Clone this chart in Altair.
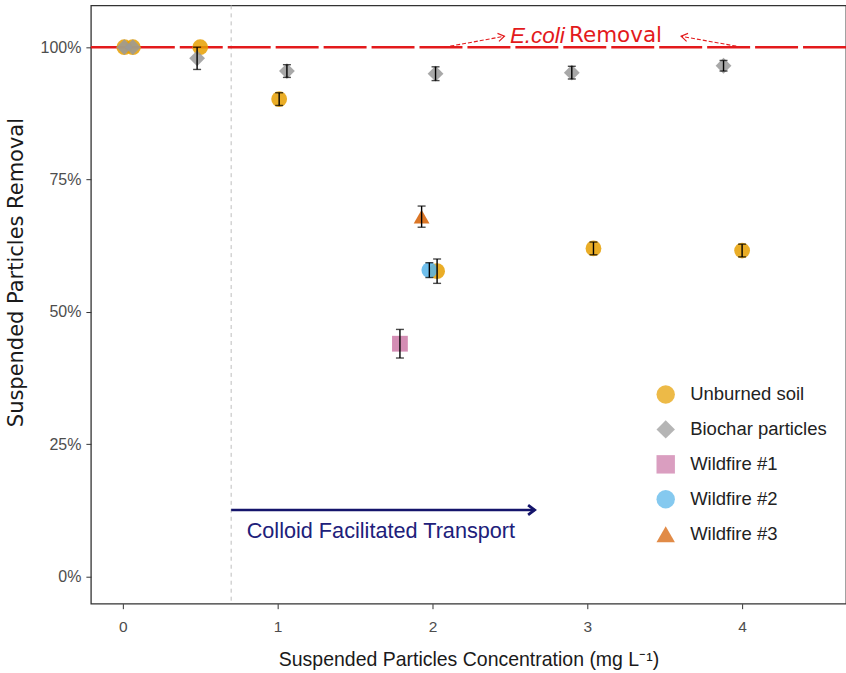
import altair as alt
import pandas as pd

# ---------------- data ----------------
groups = ["Unburned soil", "Biochar particles", "Wildfire #1", "Wildfire #2", "Wildfire #3"]
colors = ["#E69F00", "#999999", "#CC79A7", "#56B4E9", "#D55E00"]
shapes = ["circle", "diamond", "square", "circle", "triangle-up"]

unburned_x = [0.01, 0.065, 0.50, 1.01, 2.03, 3.04, 4.00]
unburned_y = [1.000, 1.000, 1.000, 0.902, 0.577, 0.620, 0.616]
unburned_err = [0.0, 0.0, 0.0, 0.012, 0.023, 0.012, 0.012]

biochar_x = [0.01, 0.065, 0.48, 1.06, 2.02, 2.90, 3.88]
biochar_y = [1.000, 1.000, 0.979, 0.955, 0.950, 0.952, 0.965]
biochar_err = [0.0, 0.0, 0.021, 0.012, 0.013, 0.012, 0.010]

wildfire1_x = [1.79]
wildfire1_y = [0.440]
wildfire1_err = [0.027]

wildfire2_x = [1.98]
wildfire2_y = [0.579]
wildfire2_err = [0.014]

wildfire3_x = [1.93]
wildfire3_y = [0.680]
wildfire3_err = [0.020]

x_ticks = [0, 1, 2, 3, 4]
y_ticks = [0, 0.25, 0.5, 0.75, 1.0]

ecoli_level = [1.0]
threshold_x = [0.70]

transport_arrow_x = [0.70, 2.66]
transport_arrow_y = [0.126]
transport_label = "Colloid Facilitated Transport"
transport_label_pos = [0.80, 0.087]

ecoli_arrow1 = [2.077, 1.0, 2.465, 1.0207]
ecoli_arrow2 = [4.00, 1.0, 3.606, 1.0207]
ecoli_text_pos = [2.855, 2.882, 1.0215]

# ---------------- frames ----------------
rows = []
for z, (g, xs_, ys_, es_) in enumerate([
    ("Unburned soil", unburned_x, unburned_y, unburned_err),
    ("Biochar particles", biochar_x, biochar_y, biochar_err),
    ("Wildfire #1", wildfire1_x, wildfire1_y, wildfire1_err),
    ("Wildfire #2", wildfire2_x, wildfire2_y, wildfire2_err),
    ("Wildfire #3", wildfire3_x, wildfire3_y, wildfire3_err),
]):
    for x, y, e in zip(xs_, ys_, es_):
        rows.append({"group": g, "conc": x, "removal": y,
                     "lo": y - e, "hi": y + e, "err": e, "z": z})
pts = pd.DataFrame(rows)
errs = pts[pts["err"] > 0]

XD = [-0.206, 4.671]
YD = [-0.051, 1.079]
xs = alt.Scale(domain=XD, nice=False, zero=False)
ys = alt.Scale(domain=YD, nice=False, zero=False)

FONT = "Liberation Sans"

x_axis = alt.Axis(values=x_ticks, format="d", grid=False, domain=False, tickSize=5,
                  tickColor="#333333", labelColor="#4D4D4D", labelFontSize=15.5,
                  labelFont=FONT, labelPadding=11,
                  title="Suspended Particles Concentration (mg L\u207b\u00b9)",
                  titleFont=FONT, titleFontSize=19.5, titleFontWeight="normal",
                  titleColor="#1A1A1A", titleX=378, titleY=56,
                  titleAlign="center", titleBaseline="middle")
y_axis = alt.Axis(values=y_ticks, format=".0%", grid=False, domain=False, tickSize=5,
                  tickColor="#333333", labelColor="#4D4D4D", labelFontSize=16,
                  labelFont=FONT, labelPadding=5,
                  title="Suspended Particles Removal",
                  titleFont="DejaVu Sans", titleFontSize=21, titleFontWeight="normal",
                  titleColor="#1A1A1A", titleX=-74, titleY=267, titleAngle=270,
                  titleAlign="center", titleBaseline="middle")

# red dashed E.coli removal line
ecoli_line = alt.Chart(pd.DataFrame({"y": ecoli_level})).mark_rule(
    color="#E31A1C", strokeWidth=2.6, strokeDash=[43, 5]
).encode(y=alt.Y("y:Q", scale=ys, axis=y_axis))

# vertical threshold line
vline = alt.Chart(pd.DataFrame({"x": threshold_x})).mark_rule(
    color="#BDBDBD", strokeWidth=1, strokeDash=[4, 4]
).encode(x=alt.X("x:Q", scale=xs, axis=x_axis))

points = alt.Chart(pts).mark_point(filled=True, opacity=0.85, size=250).encode(
    x=alt.X("conc:Q", scale=xs, axis=x_axis),
    y=alt.Y("removal:Q", scale=ys, axis=y_axis),
    color=alt.Color("group:N", scale=alt.Scale(domain=groups, range=colors),
                    sort=groups,
                    legend=alt.Legend(title=None, orient="none", legendX=566, legendY=380,
                                      symbolSize=340, symbolStrokeWidth=0,
                                      labelFont=FONT, labelFontSize=18.5, labelColor="#222222",
                                      labelOffset=15, rowPadding=16, padding=0,
                                      symbolOpacity=1)),
    shape=alt.Shape("group:N", scale=alt.Scale(domain=groups, range=shapes), sort=groups),
    order=alt.Order("z:Q"),
)

err_rule = alt.Chart(errs).mark_rule(color="black", strokeWidth=1.4).encode(
    x="conc:Q", y="lo:Q", y2="hi:Q")
err_lo = alt.Chart(errs).mark_tick(color="black", orient="horizontal", size=8,
                                   thickness=1.4).encode(x="conc:Q", y="lo:Q")
err_hi = alt.Chart(errs).mark_tick(color="black", orient="horizontal", size=8,
                                   thickness=1.4).encode(x="conc:Q", y="hi:Q")

# blue transport arrow
tdf = pd.DataFrame({"x": [transport_arrow_x[0]], "x2": [transport_arrow_x[1]],
                    "y": transport_arrow_y})
t_shaft = alt.Chart(tdf).mark_rule(color="#14146B", strokeWidth=2.6).encode(
    x="x:Q", x2="x2:Q", y="y:Q")
t_head = alt.Chart(tdf).mark_point(
    shape="M-1,-0.75L0,0L-1,0.75", filled=False, color="#14146B",
    strokeWidth=2.8, size=170, opacity=1, angle=0
).encode(x="x2:Q", y="y:Q")
t_text = alt.Chart(pd.DataFrame({"x": [transport_label_pos[0]], "y": [transport_label_pos[1]],
                                 "t": [transport_label]})).mark_text(
    align="left", baseline="middle", font=FONT, fontSize=21.7, color="#20207A"
).encode(x="x:Q", y="y:Q", text="t:N")

# red annotation arrows
adf = pd.DataFrame({"x": [ecoli_arrow1[0], ecoli_arrow2[0]],
                    "y": [ecoli_arrow1[1], ecoli_arrow2[1]],
                    "x2": [ecoli_arrow1[2], ecoli_arrow2[2]],
                    "y2": [ecoli_arrow1[3], ecoli_arrow2[3]],
                    "ang": [349.6, 190.2]})
a_shaft = alt.Chart(adf).mark_rule(color="#E31A1C", strokeWidth=1.1,
                                   strokeDash=[4, 2]).encode(
    x="x:Q", y="y:Q", x2="x2:Q", y2="y2:Q")
a_head = alt.Chart(adf).mark_point(
    shape="M-1,-0.65L0,0L-1,0.65", filled=False, color="#E31A1C",
    strokeWidth=1.2, size=160, opacity=1
).encode(x="x2:Q", y="y2:Q", angle=alt.Angle("ang:Q", scale=None))

edf = pd.DataFrame({"x": [ecoli_text_pos[0]], "x2": [ecoli_text_pos[1]],
                    "y": [ecoli_text_pos[2]], "a": ["E.coli"], "b": ["Removal"]})
e_text1 = alt.Chart(edf).mark_text(
    align="right", baseline="middle", font=FONT, fontSize=22.5, fontStyle="italic",
    color="#E31A1C").encode(x="x:Q", y="y:Q", text="a:N")
e_text2 = alt.Chart(edf).mark_text(
    align="left", baseline="middle", font="DejaVu Sans", fontSize=21.5,
    color="#E31A1C").encode(x="x2:Q", y="y:Q", text="b:N")

chart = alt.layer(
    vline, ecoli_line, points, err_rule, err_lo, err_hi,
    t_shaft, t_head, t_text, a_shaft, a_head, e_text1, e_text2
).properties(
    width=756, height=599,
    autosize=alt.AutoSizeParams(type="none"),
    padding={"left": 91, "top": 5, "right": 0, "bottom": 69},
    background="white",
).configure_view(
    stroke="#333333", strokeWidth=1.3
)

chart.save("out.html", embed_options={"renderer": "svg", "actions": False})
